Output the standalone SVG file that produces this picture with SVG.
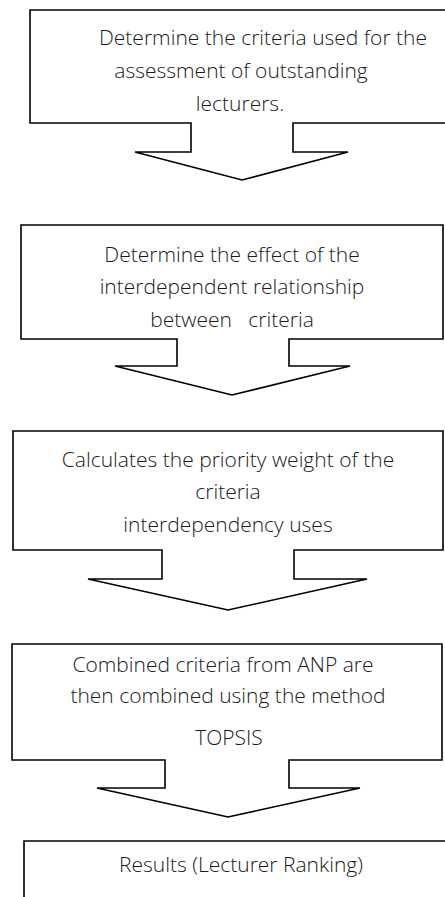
<svg xmlns="http://www.w3.org/2000/svg" width="445" height="897" viewBox="0 0 445 897">
<style>
.shape{fill:#fff;stroke:#000;stroke-width:1.6;stroke-linejoin:miter}
.t{font-family:"Open Sans","Liberation Sans",sans-serif;font-weight:300;font-size:21px;fill:#1a1a1a;text-anchor:middle}
</style>
<rect width="445" height="897" fill="#fff"/>
<g id="connectors"></g>
<g id="step1">
<path class="shape" d="M30,10 H448 V123 H293 V152 H348 L242,180 L135,152 H191 V123 H30 Z"/>
<text class="t" x="263" y="45">Determine the criteria used for the</text>
<text class="t" x="241" y="78">assessment of outstanding</text>
<text class="t" x="240" y="111">lecturers.</text>
</g>
<g id="step2">
<path class="shape" d="M21,225 H443 V339 H289 V366 H350 L232,395 L115,366 H177 V339 H21 Z"/>
<text class="t" x="232" y="262">Determine the effect of the</text>
<text class="t" x="232" y="294">interdependent relationship</text>
<text class="t" x="232" y="327" xml:space="preserve">between   criteria</text>
</g>
<g id="step3">
<path class="shape" d="M13,431 H443 V550 H294 V579 H367 L228,610 L88,579 H162 V550 H13 Z"/>
<text class="t" x="228" y="467">Calculates the priority weight of the</text>
<text class="t" x="228" y="499">criteria</text>
<text class="t" x="228" y="532">interdependency uses</text>
</g>
<g id="step4">
<path class="shape" d="M12,644 H442 V760 H289 V788 H360 L228,817 L97,788 H165 V760 H12 Z"/>
<text class="t" x="223" y="672">Combined criteria from ANP are</text>
<text class="t" x="228" y="703">then combined using the method</text>
<text class="t" x="229" y="745">TOPSIS</text>
</g>
<g id="step5">
<path class="shape" d="M24,899 V841 H448 V899"/>
<text class="t" x="241" y="872">Results (Lecturer Ranking)</text>
</g>
</svg>
